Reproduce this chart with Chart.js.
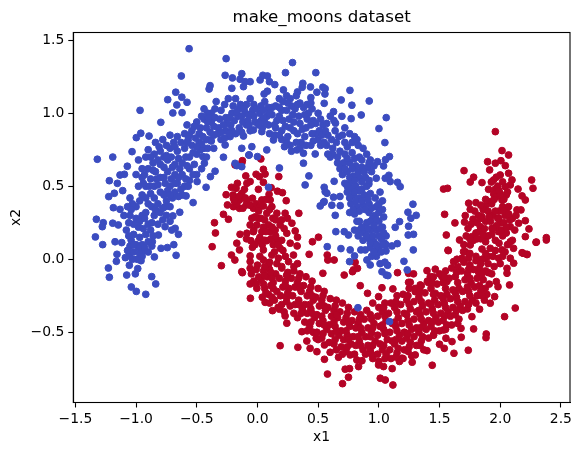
<!DOCTYPE html>
<html lang="en">
  <head>
    <meta charset="utf-8" />
    <title>make_moons dataset</title>
    <style>
      * {
        margin: 0;
        padding: 0;
      }
      body {
        background: white;
      }
      canvas {
        display: block;
      }
    </style>
  </head>
  <body>
    <canvas id="myChart" width="580" height="455"></canvas>

    <script src="https://cdnjs.cloudflare.com/ajax/libs/Chart.js/4.4.1/chart.umd.min.js"></script>

    <script>
      // data block: values as [x1, x2]
      const blueEdge = [
        [-0.563,1.442],[-0.258,1.374],[-0.627,1.255],[-0.266,1.26],[-0.206,1.242],[-0.967,1.02],[-0.739,1.093],[-0.673,1.144],
        [-0.623,1.11],[-0.58,1.075],[-0.664,1.057],[-0.697,1.002],[-0.621,1.004],[-0.796,0.938],[-1.319,0.685],[-1.192,0.7],
        [-1.033,0.737],[-0.998,0.833],[-0.961,0.863],[-0.893,0.844],[-0.39,1.189],[-0.398,1.166],[-0.211,1.171],
        [-1.327,0.274],[-1.27,0.25],[-1.278,0.223],[-1.335,0.153],[-1.275,0.1],[-1.22,0.538],[-1.154,0.52],[-1.132,0.577],
        [-1.096,0.582],[-1.072,0.637],[-1.225,0.429],[-1.179,0.452],[-1.11,0.47],[-1.187,0.353],[-1.132,0.342],[-1.192,0.247],
        [-1.146,0.235],[-1.173,0.12],[-1.118,0.114],[-1.157,0.034],[-1.162,-0.014],[-1.228,-0.06],[-1.22,-0.123],[-1.088,0.011],
        [-1.055,0.029],[-1.055,-0.041],[-0.986,-0.064],[-1.077,-0.108],[-1.006,-0.1],[-1.039,-0.19],[-0.998,-0.22],[-0.92,-0.24],
        [-0.838,-0.169],[-0.871,-0.119],[-0.959,-0.01],[-0.849,0.016],[-0.67,0.027],[-0.689,0.1],[-0.742,0.08],[-0.794,0.075],
        [-0.866,0.12],[-0.934,0.059],[-0.651,0.171],[-0.678,0.212],[-0.706,0.2],[-0.761,0.223],[-0.816,0.166],[-0.64,0.322],
        [-0.697,0.297],[-0.53,0.388],[-0.588,0.434],[-0.423,0.493],[-0.497,0.532],[-0.387,0.566],[-0.349,0.603],[-0.437,0.658],
        [0.289,1.347],[0.231,1.278],[0.481,1.278],[-0.129,1.271],[-0.143,1.233],[-0.101,1.216],[-0.06,1.216],[-0.115,1.182],
        [0.045,1.26],[0.082,1.255],[0.022,1.228],[0.099,1.216],[0.143,1.196],[0.374,1.205],[0.369,1.178],[0.437,1.18],
        [0.539,1.178],[0.558,1.168],[0.49,1.144],[0.556,1.132],[0.762,1.157],[0.44,1.107],[0.69,1.091],[0.778,1.055],
        [0.921,1.084],[0.855,0.988],[0.772,0.963],[0.696,0.979],[0.643,0.932],[0.55,1.068],[0.627,1.011],[0.214,1.16],
        [0.082,1.151],[0.055,1.132],[0.33,1.146],[1.061,0.97],[1.001,0.895],[1.05,0.799],[1.088,0.703],[1.055,0.682],
        [0.989,0.668],[1.039,0.639],[1.083,0.575],[1.154,0.527],[1.176,0.497],[1.053,0.555],[1.094,0.532],[0.979,0.555],
        [0.918,0.516],[1.281,0.377],[1.24,0.322],[1.308,0.301],[1.264,0.281],[1.245,0.226],[1.171,0.258],[1.135,0.219],
        [1.286,0.171],[1.242,0.166],[1.152,0.107],[1.284,0.064],[1.207,-0.014],[1.234,-0.073],[1.059,0.057],[1.108,0.091],
        [1.047,0.11],[1.072,-0.041],[1.061,-0.108],[1.075,-0.112],[1.026,-0.085],[0.929,-0.039],[0.902,-0.005],[0.97,0.059],
        [0.852,0.064],[0.888,0.064],[0.764,0.064],[0.688,0.073],[0.575,0.086],[0.8,0.023],[0.759,-0.016],[0.646,0.189],
        [0.715,0.189],[0.75,0.166],[0.641,0.301],[0.544,0.39],[0.613,0.37],[0.632,0.534],[0.55,0.493],[0.558,0.463],
        [0.627,0.425],[0.682,0.367],[0.181,0.625],[0.393,0.509],[0.424,0.571],[0.379,0.658],[0.517,0.365],[0.55,0.395],
        [0.572,0.452],[0.091,0.493],[-0.068,0.714],[0,0.703],[-0.17,0.641],[-0.129,0.634],[0.828,-0.332],[1.088,-0.427],
        [-0.129,0.76],[-0.046,0.771],[-0.071,0.714],[0.077,0.749],[0.223,0.771],[0.325,0.749],[0.379,0.726],[0.476,0.721],
        [-0.28,0.699],[-0.45,0.703],[-0.184,0.657],[-0.225,0.84],[-0.115,0.844],[-0.033,0.886],[0.036,0.874],[0.132,0.817],
        [-0.266,0.783],[-0.39,0.817]
      ];
      const blueCore = [
        [-1.05,0.42],[-1,0.36],[-0.95,0.44],[-0.9,0.38],[-0.85,0.42],[-0.8,0.46],[-0.75,0.4],[-0.7,0.42],[-1.05,0.3],[-1,0.28],
        [-0.95,0.3],[-0.9,0.24],[-0.85,0.3],[-0.8,0.32],[-0.75,0.3],[-0.72,0.26],[-1.08,0.2],[-1.02,0.17],[-0.98,0.22],[-0.92,0.17],
        [-0.88,0.2],[-0.82,0.24],[-1,0.1],[-0.95,0.1],[-0.9,0.12],[-1.05,0.09],[-1.02,0.05],[-0.97,0.04],[-0.9,0.05],[-1.07,0.06],
        [-0.92,0.5],[-0.88,0.55],[-0.84,0.6],[-0.8,0.56],[-0.76,0.52],[-0.72,0.5],[-0.68,0.46],[-0.62,0.44],[-0.66,0.52],[-0.6,0.5],
        [-0.56,0.54],[-0.85,0.5],[-0.95,0.56],[-0.9,0.62],[-0.95,0.62],[-1,0.58],[-0.98,0.68],[-0.92,0.7],[-0.86,0.66],[-0.8,0.65],
        [-0.74,0.6],[-0.68,0.58],[-0.62,0.58],[-0.56,0.62],[-0.5,0.58],[-0.52,0.65],[-0.46,0.62],[-0.42,0.7],[-0.44,0.76],[-0.9,0.75],
        [-0.85,0.72],[-0.8,0.74],[-0.74,0.68],[-0.68,0.65],[-0.62,0.66],[-0.56,0.7],[-0.5,0.72],[-0.84,0.8],[-0.78,0.82],[-0.72,0.76],
        [-0.66,0.74],[-0.6,0.76],[-0.54,0.78],[-0.48,0.8],[-0.42,0.82],[-0.36,0.76],[-0.72,0.85],[-0.66,0.84],[-0.6,0.86],[-0.54,0.88],
        [-0.48,0.86],[-0.42,0.9],[-0.36,0.85],[-0.3,0.82],[-0.58,0.92],[-0.5,0.94],[-0.44,0.96],[-0.38,0.94],[-0.32,0.9],[-0.26,0.88],
        [-0.44,1.03],[-0.38,1],[-0.34,1.08],[-0.3,1.02],[-0.26,0.97],[-0.22,0.92],[-0.2,1.05],[-0.24,1.1],[-0.18,1.1],[-0.14,1.06],
        [-0.16,0.98],[-0.12,0.94],[-0.18,0.86],[-0.1,1],[-0.06,1.1],[-0.04,1.02],[-0.02,0.94],[-0.06,0.88],[0.02,1],[0.06,1.08],
        [0.08,0.98],[0.04,0.9],[0.1,0.86],[0.12,1.04],[0.16,0.95],[0.18,1.1],[0.2,1.02],[0.2,0.88],[0.24,0.8],[0.24,1.12],
        [0.26,0.96],[0.28,1.05],[0.3,0.88],[0.32,1.12],[0.34,0.98],[0.36,0.8],[0.38,1.04],[0.4,0.9],[0.42,1],[0.44,0.78],
        [0.46,0.95],[0.48,0.86],[0.5,1],[0.52,0.78],[0.54,0.92],[0.58,0.85],[0.6,0.98],[0.62,0.76],[0.64,0.88],[0.28,0.74],
        [0.72,0.8],[0.76,0.86],[0.8,0.84],[0.83,0.78],[0.87,0.76],[0.68,0.74],[0.72,0.72],[0.78,0.73],[0.84,0.7],[0.9,0.72],
        [0.93,0.68],[0.66,0.66],[0.71,0.66],[0.76,0.66],[0.81,0.64],[0.86,0.63],[0.91,0.63],[0.96,0.64],[0.62,0.72],[0.74,0.6],
        [0.79,0.57],[0.84,0.56],[0.89,0.56],[0.7,0.58],[0.76,0.52],[0.81,0.5],[0.86,0.48],[0.9,0.5],[0.72,0.52],[0.74,0.46],
        [0.79,0.44],[0.84,0.42],[0.88,0.44],[0.93,0.45],[0.68,0.43],[0.77,0.38],[0.82,0.36],[0.87,0.37],[0.92,0.38],[0.97,0.42],
        [1.01,0.46],[0.76,0.32],[0.8,0.31],[0.92,0.32],[0.98,0.36],[1.03,0.4],[1.03,0.34],[0.97,0.3],[0.82,0.26],[0.9,0.25],
        [0.95,0.28],[1,0.26],[1.04,0.29],[0.84,0.2],[0.88,0.18],[0.93,0.2],[0.98,0.2],[1.03,0.22],[1.06,0.16],[0.87,0.13],
        [0.92,0.14],[0.96,0.12],[1.02,0.14],[1.06,0.1],[0.93,0.08],[1,0.08],[0.83,0.16],[0.8,0.2],[0.98,0.02],[0.94,0.02],
        [1.01,-0.03],[1.05,-0.02]
      ];
      const blueFill = [
        [-0.57,0.82],[-0.51,0.83],[-0.45,0.84],[-0.39,0.87],[-0.33,0.86],[-0.27,0.83],[-0.21,0.88],[-0.15,0.9],[-0.09,0.92],[-0.03,0.98],
        [0.03,0.95],[0.09,0.92],[0.15,0.9],[0.21,0.95],[0.27,0.9],[0.33,0.86],[0.39,0.84],[0.45,0.86],[0.51,0.88],[0.57,0.78],
        [-0.41,1],[-0.35,1.03],[-0.27,1.06],[-0.21,1],[-0.15,1.03],[-0.09,1.06],[-0.03,1.06],[0.03,1.05],[0.09,1.04],[0.15,1.05],
        [0.21,1.08],[0.27,1.1],[0.31,1.03],[0.35,1.07],[0.41,1.06],[0.45,1.03],[0.05,1.02],[0.12,0.99],[0.18,0.98],[0.24,1.02],
        [0.29,0.99],[0.35,0.93],[0.41,0.96],[0.48,0.93],[0.52,0.96],[0.57,0.93],[0.63,0.95],[0.25,0.84],[0.32,0.8],[0.4,0.78],
        [0.14,0.85],[0.2,0.82],[0.27,0.78],[-0.25,0.93],[-0.19,0.95],[-0.13,0.98],[-0.08,0.95],[-0.31,0.96],[-0.36,0.91],[-0.41,0.94],
        [-0.47,0.9],[-0.52,0.91],[-0.56,0.85],[-0.63,0.8],[-0.69,0.8],[-0.75,0.78],[-0.81,0.77],[-0.77,0.7],[-0.71,0.7],[-0.65,0.69],
        [-0.59,0.7],[-0.53,0.73],[-0.47,0.75],[-0.41,0.76],[-0.82,0.68],[-0.88,0.7],[-0.7,0.63],[-0.64,0.62],[-0.58,0.64],[-0.77,0.63],
        [-0.83,0.55],[-0.77,0.56],[-0.71,0.55],[-0.65,0.56],[-0.59,0.55],[-0.53,0.58],[-0.89,0.5],[-0.94,0.52],[-0.82,0.51],[-0.74,0.47],
        [-0.68,0.52],[-0.63,0.48],[-0.57,0.5],[-1.03,0.38],[-0.97,0.4],[-0.92,0.42],[-0.87,0.36],[-0.82,0.38],[-0.77,0.44],[-0.72,0.36],
        [-1.07,0.36],[-1.02,0.24],[-0.97,0.26],[-0.92,0.32],[-0.87,0.25],[-0.78,0.27],[-1.04,0.13],[-0.97,0.15],[-0.93,0.08],[-0.87,0.09],
        [-0.99,0],[-1.03,0],[-0.98,0.08],[-0.76,0.36],[-0.84,0.34],[-0.93,0.28],[0.74,0.77],[0.78,0.8],[0.82,0.82],[0.74,0.69],
        [0.8,0.69],[0.86,0.68],[0.92,0.66],[0.68,0.62],[0.72,0.62],[0.78,0.62],[0.83,0.6],[0.88,0.6],[0.94,0.6],[0.76,0.56],
        [0.8,0.54],[0.86,0.53],[0.92,0.54],[0.74,0.5],[0.78,0.48],[0.84,0.47],[0.8,0.46],[0.76,0.42],[0.81,0.4],[0.86,0.4],
        [0.91,0.41],[0.79,0.34],[0.84,0.33],[0.89,0.34],[0.94,0.35],[1,0.38],[0.84,0.26],[0.93,0.26],[0.98,0.27],[1,0.32],
        [0.86,0.22],[0.91,0.21],[0.96,0.23],[1.01,0.21],[0.9,0.16],[0.95,0.16],[1,0.16],[1.04,0.18],[0.93,0.11],[0.98,0.1],
        [1.03,0.1],[0.96,0.05],[1.02,0.05],[0.6,0.7],[0.65,0.8],[0.7,0.85],[0.66,0.7],[0.58,0.72],[0.72,0.9],[0.55,0.8],[0.5,0.82],
        [-0.46,0.98],[-0.4,0.97],[-0.35,0.97],[-0.28,0.92],[-0.23,0.97],[-0.17,1.01],[-0.11,1.03],[-0.07,0.99],[-0.01,1.03],[0.01,0.92],
        [0.06,0.94],[0.1,1],[0.14,0.92],[0.18,1.04],[0.23,0.91],[0.25,1.07],[0.3,0.94],[0.33,1.06],[0.37,0.89],[0.39,0.99],
        [0.44,0.92],[0.46,0.81],[0.44,1.07],[0.53,0.85],[0.56,0.88],[0.61,0.82],[0.67,0.84],[0.35,0.76],[0.18,0.85],[0.05,0.97],
        [-0.07,0.92],[-0.13,0.87],[-0.23,0.86],[-0.3,0.87],[-0.38,0.81],[-0.46,0.79],[-0.5,0.77],[-0.58,0.8],[-0.68,0.77],[-0.75,0.71],
        [-0.86,0.61],[-0.93,0.58],[-0.98,0.5],[-0.88,0.45],[-0.72,0.44],[-0.65,0.43],[-1.06,0.25],[-1.04,0.34],[-0.94,0.21],[-0.86,0.16],
        [-0.95,0.02],[-1.02,0.1],[-0.78,0.35],[-1.1,0.3],[-1.06,0.16]
      ];
      const redEdge = [
        [-0.124,0.675],[-0.129,0.658],[0.028,0.687],[-0.184,0.646],[0.049,0.616],[0.063,0.584],[0.176,0.566],[-0.096,0.571],
        [-0.011,0.582],[0.016,0.566],[-0.06,0.532],[-0.087,0.52],[-0.165,0.52],[0.049,0.527],[-0.214,0.493],[-0.176,0.486],
        [-0.107,0.479],[0.008,0.479],[0.113,0.49],[0.165,0.466],[0.206,0.456],[-0.258,0.442],[-0.198,0.418],[-0.148,0.406],
        [-0.087,0.401],[-0.041,0.418],[0.036,0.406],[0.096,0.445],[0.105,0.406],[0.237,0.401],[-0.247,0.372],[-0.198,0.36],
        [-0.148,0.349],[-0.093,0.372],[-0.033,0.349],[0.049,0.365],[0.119,0.36],[-0.28,0.308],[-0.239,0.274],[-0.354,0.25],
        [-0.346,0.18],[-0.373,0.086],[-0.297,-0.044],[0.341,0.315],[0.228,0.315],[0.16,0.315],[0.077,0.315],[0.127,0.281],
        [0.247,0.281],[0.284,0.247],[-0.046,0.281],[0.008,0.281],[-0.06,0.235],[-0.005,0.235],[0.091,0.235],[0.187,0.235],
        [-0.143,0.171],[-0.087,0.178],[-0.033,0.189],[0.036,0.189],[0.105,0.189],[0.146,0.2],[0.242,0.178],[0.311,0.194],
        [0.33,0.151],[0.503,0.151],[0.453,0.12],[-0.17,0.11],[-0.054,0.127],[0.008,0.127],[0.077,0.127],[0.16,0.132],
        [0.27,0.11],[0.327,0.091],[-0.041,0.082],[-0.148,0.064],[0.049,0.064],[0.187,0.075],[-0.214,0.029],[-0.186,-0.005],
        [-0.06,0.023],[-0.06,-0.016],[-0.06,-0.062],[-0.129,-0.085],[0.049,-0.005],[0.119,0.029],[0.091,-0.039],[0.173,0.007],
        [0.256,-0.016],[0.297,0.029],[0.426,0.034],[0.575,0.029],[0.58,-0.005],[0.632,-0.005],[0.539,-0.096],[0.715,-0.108],
        [0.805,-0.021],[0.791,-0.073],[0.824,-0.062],[0.847,-0.181],[1.533,0.481],[1.566,0.486],[1.542,0.308],[1.556,0.166],
        [1.57,0.062],[1.154,-0.092],[1.245,-0.096],[1.286,-0.1],[1.026,-0.195],[1.116,-0.203],[0.907,-0.233],[0.998,-0.256],
        [0.783,-0.085],[1.397,-0.078],[1.465,-0.068],[1.424,-0.119],[1.52,-0.119],[1.259,-0.158],[1.341,-0.176],[1.41,-0.16],
        [1.3,-0.222],[1.465,-0.233],[1.561,-0.153],[-0.124,-0.092],[-0.06,-0.169],[-0.005,-0.199],[-0.058,-0.267],[0.063,-0.295],
        [0.124,-0.352],[0.181,-0.342],[0.228,-0.388],[0.242,-0.438],[0.187,-0.592],[0.333,-0.603],[0.366,-0.496],[0.407,-0.56],
        [0.484,-0.541],[0.434,-0.61],[0.49,-0.633],[0.552,-0.587],[0.552,-0.685],[0.599,-0.637],[0.668,-0.671],[0.577,-0.786],
        [0.723,-0.753],[0.759,-0.749],[0.75,-0.808],[0.701,-0.852],[0.764,-0.655],[0.833,-0.735],[0.819,-0.69],[0.861,-0.695],
        [1.012,-0.815],[1.053,-0.827],[1.116,-0.861],[1.11,-0.749],[0.998,-0.724],[1.039,-0.735],[1.245,-0.158],[1.572,0.059],
        [2.18,0.045],[2.221,0.032],[2.111,-0.027],[2.056,-0.062],[2.056,-0.096],[1.968,-0.153],[1.982,-0.188],[2.077,-0.176],
        [1.877,-0.199],[1.954,-0.256],[1.918,-0.301],[2.124,-0.334],[2.036,-0.393],[1.83,-0.342],[1.767,-0.393],[1.781,-0.477],
        [1.885,-0.512],[1.883,-0.537],[1.679,-0.534],[1.603,-0.564],[1.553,-0.541],[1.737,-0.623],[1.619,-0.644],[1.5,-0.582],
        [1.539,-0.61],[1.397,-0.626],[1.44,-0.726],[1.275,-0.705],[1.3,-0.655],[1.19,-0.678],[1.677,-0.473],[1.533,-0.484],
        [1.451,-0.518],[1.904,-0.092],[1.822,-0.089],[1.616,-0.016],[1.685,0.007],[1.712,0.052],[2.295,0.116],[2.38,0.132],
        [1.96,0.874],[2.015,0.744],[2.069,0.714],[1.896,0.668],[1.96,0.658],[2.006,0.675],[2.042,0.641],[1.913,0.612],
        [1.702,0.607],[2.069,0.589],[2,0.577],[1.968,0.562],[1.946,0.543],[1.927,0.529],[1.781,0.562],[1.753,0.529],
        [1.85,0.525],[2.097,0.543],[2.259,0.543],[2.083,0.509],[2.042,0.497],[2.27,0.486],[2.147,0.481],[1.904,0.479],
        [1.96,0.481],[1.946,0.447],[2.05,0.44],[2.18,0.434],[2.207,0.406],[2.015,0.406],[1.918,0.395],[1.74,0.384],
        [1.8,0.388],[1.753,0.342],[1.877,0.365],[2.069,0.36],[2.138,0.338],[2.171,0.338],[1.712,0.299],[1.776,0.274],
        [1.706,0.255],[1.627,0.249],[1.85,0.292],[1.918,0.303],[1.987,0.281],[2.056,0.315],[2.207,0.264],[2.152,0.247],
        [2.237,0.208],[2.083,0.223],[1.735,0.212],[1.836,0.223],[1.932,0.212],[1.987,0.189],[2.207,0.155],[2.38,0.148],
        [2.298,0.118],[1.665,0.132],[1.767,0.155],[1.877,0.144],[2.083,0.12],[1.698,0.052],[1.753,0.098],[1.918,0.075],
        [2.015,0.064],[2.11,0.075],[2.188,0.041],[2.221,0.034],[1.644,0],[1.739,0.007],[1.877,0.007],[1.987,0.007],[2.083,0.007]
      ];
      const redCore = [
        [-0.05,-0.1],[-0.03,-0.15],[0.05,-0.08],[0.03,-0.14],[0.06,-0.2],[0.04,-0.26],[0.15,-0.1],[0.13,-0.16],[0.16,-0.22],[0.14,-0.28],
        [0.17,-0.33],[0.25,-0.09],[0.23,-0.15],[0.26,-0.2],[0.24,-0.26],[0.27,-0.32],[0.35,-0.1],[0.33,-0.16],[0.36,-0.22],[0.34,-0.28],
        [0.37,-0.34],[0.33,-0.4],[0.45,-0.15],[0.43,-0.22],[0.46,-0.28],[0.44,-0.34],[0.47,-0.4],[0.43,-0.46],[0.46,-0.5],[0.55,-0.22],
        [0.53,-0.28],[0.56,-0.35],[0.54,-0.42],[0.57,-0.48],[0.53,-0.54],[0.65,-0.28],[0.63,-0.35],[0.66,-0.4],[0.64,-0.46],[0.67,-0.52],
        [0.63,-0.58],[0.65,-0.62],[0.75,-0.33],[0.73,-0.4],[0.76,-0.46],[0.74,-0.52],[0.77,-0.58],[0.73,-0.63],[0.85,-0.38],[0.83,-0.44],
        [0.86,-0.5],[0.84,-0.56],[0.87,-0.62],[0.95,-0.3],[0.93,-0.38],[0.96,-0.44],[0.94,-0.5],[0.97,-0.56],[0.93,-0.62],[0.95,-0.68],
        [1.05,-0.3],[1.03,-0.36],[1.06,-0.42],[1.04,-0.48],[1.07,-0.55],[1.03,-0.62],[1.05,-0.68],[1.15,-0.25],[1.13,-0.33],[1.16,-0.4],
        [1.14,-0.46],[1.17,-0.52],[1.13,-0.58],[1.15,-0.64],[1.17,-0.7],[1.25,-0.2],[1.23,-0.28],[1.26,-0.34],[1.24,-0.42],[1.27,-0.48],
        [1.23,-0.54],[1.25,-0.6],[1.27,-0.66],[1.35,-0.18],[1.33,-0.26],[1.36,-0.32],[1.34,-0.38],[1.37,-0.44],[1.33,-0.5],[1.35,-0.56],
        [1.37,-0.62],[1.45,-0.12],[1.43,-0.2],[1.46,-0.28],[1.44,-0.34],[1.47,-0.4],[1.43,-0.46],[1.45,-0.52],[1.55,-0.08],[1.53,-0.16],
        [1.56,-0.24],[1.54,-0.3],[1.57,-0.36],[1.53,-0.42],[1.55,-0.48],[1.65,-0.05],[1.63,-0.12],[1.66,-0.2],[1.64,-0.26],[1.67,-0.32],
        [1.63,-0.38],[1.65,-0.44],[1.75,-0.04],[1.73,-0.1],[1.76,-0.16],[1.74,-0.22],[1.77,-0.28],[1.73,-0.34],[1.85,0],[1.83,-0.06],
        [1.86,-0.14],[1.84,-0.22],[1.87,-0.28],[1.95,-0.05],[1.93,-0.1],[2,-0.03],
        [1.84,0.14],[1.9,0.16],[1.96,0.13],[2.02,0.16],[2.06,0.1],[1.8,0.18],[1.88,0.26],[1.94,0.3],[2,0.25],[2.04,0.3],
        [1.82,0.3],[1.86,0.34],[1.93,0.38],[1.99,0.33],[2.02,0.36],[2.1,0.28],[2.12,0.2],[1.72,0.16],[1.9,0.02],[1.96,0.06],
        [2.02,0.02],[1.8,0.02],[1.75,0.04]
      ];
      const redFill = [
        [0.01,-0.12],[-0.01,-0.17],[0.1,-0.07],[0.08,-0.12],[0.11,-0.18],[0.09,-0.24],[0.1,-0.3],[0.2,-0.06],[0.18,-0.13],[0.21,-0.19],
        [0.19,-0.25],[0.2,-0.31],[0.22,-0.36],[0.3,-0.08],[0.28,-0.13],[0.31,-0.19],[0.29,-0.25],[0.31,-0.31],[0.3,-0.37],[0.4,-0.12],
        [0.38,-0.18],[0.41,-0.25],[0.39,-0.31],[0.41,-0.37],[0.39,-0.43],[0.41,-0.49],[0.5,-0.2],[0.48,-0.26],[0.51,-0.32],[0.49,-0.38],
        [0.51,-0.44],[0.49,-0.5],[0.5,-0.55],[0.6,-0.27],[0.58,-0.33],[0.61,-0.39],[0.59,-0.45],[0.61,-0.51],[0.59,-0.57],[0.7,-0.3],
        [0.68,-0.36],[0.71,-0.43],[0.69,-0.49],[0.71,-0.55],[0.69,-0.6],[0.7,-0.65],[0.8,-0.36],[0.78,-0.42],[0.81,-0.47],[0.79,-0.53],
        [0.81,-0.59],[0.8,-0.65],[0.9,-0.35],[0.88,-0.41],[0.91,-0.47],[0.89,-0.53],[0.91,-0.59],[0.89,-0.65],[1,-0.33],[0.99,-0.39],
        [1.01,-0.46],[0.99,-0.52],[1.01,-0.58],[0.99,-0.65],[1,-0.7],[1.1,-0.3],[1.08,-0.37],[1.11,-0.44],[1.09,-0.5],[1.11,-0.56],
        [1.09,-0.62],[1.1,-0.68],[1.2,-0.24],[1.18,-0.31],[1.21,-0.37],[1.19,-0.44],[1.21,-0.5],[1.19,-0.56],[1.21,-0.62],[1.2,-0.68],
        [1.3,-0.2],[1.29,-0.29],[1.31,-0.36],[1.29,-0.41],[1.31,-0.47],[1.29,-0.53],[1.31,-0.59],[1.4,-0.15],[1.38,-0.23],[1.41,-0.3],
        [1.39,-0.36],[1.41,-0.42],[1.39,-0.48],[1.41,-0.54],[1.5,-0.1],[1.48,-0.17],[1.51,-0.25],[1.49,-0.31],[1.51,-0.37],[1.49,-0.43],
        [1.5,-0.49],[1.6,-0.06],[1.58,-0.13],[1.61,-0.21],[1.59,-0.27],[1.61,-0.33],[1.59,-0.39],[1.6,-0.45],[1.7,-0.02],[1.68,-0.08],
        [1.71,-0.14],[1.69,-0.22],[1.71,-0.29],[1.69,-0.35],[1.8,-0.01],[1.78,-0.07],[1.81,-0.13],[1.79,-0.19],[1.81,-0.25],[1.8,-0.3],
        [1.9,-0.03],[1.88,-0.08],[1.91,-0.17],[1.89,-0.24],
        [1.78,0.13],[1.83,0.19],[1.88,0.12],[1.93,0.17],[1.99,0.11],[2.05,0.18],[2.1,0.13],[1.76,0.24],[1.81,0.25],[1.87,0.21],
        [1.92,0.26],[1.97,0.23],[2.03,0.25],[2.08,0.27],[2.13,0.3],[1.79,0.33],[1.84,0.37],[1.9,0.33],[1.96,0.33],[2.03,0.33],
        [2.07,0.31],[1.88,0.41],[1.97,0.43],[2,0.45],[2.03,0.41],[1.98,0.5],[2.02,0.53],[2.06,0.46],[1.88,0.04],[1.94,0.02],
        [2.04,0.05],[1.85,0.07],[1.7,0.1],[1.75,0.14],
        [-0.13,0.45],[-0.2,0.44],[-0.17,0.38],[-0.12,0.35],[-0.06,0.37],[-0.01,0.38],[0.02,0.36],[0.07,0.41],[0.1,0.34],[0.03,0.28],
        [0.05,0.22],[0.12,0.22],[0.15,0.27],[0.2,0.27],[0.22,0.21],[0.02,0.15],[-0.02,0.1],[0.04,0.1],[0.11,0.14],[0.13,0.1],
        [0.2,0.13],[0.21,0.06],[0.14,0.05],[0.23,0.02],[0.16,-0.03],[0.1,-0.02],[0.02,0.02],[0,-0.04],[-0.03,0.2],[-0.09,0.14],
        [-0.02,0.29],[-0.01,-0.07],[0.06,-0.05],[0.2,-0.05],[0.3,-0.05],[0.33,-0.03],
        [0.06,-0.11],[0.05,-0.17],[0.07,-0.23],[0.12,-0.13],[0.13,-0.2],[0.12,-0.26],[0.24,-0.11],[0.23,-0.18],[0.25,-0.23],[0.24,-0.29],
        [0.34,-0.13],[0.35,-0.2],[0.34,-0.31],[0.36,-0.37],[0.44,-0.19],[0.45,-0.25],[0.43,-0.31],[0.45,-0.37],[0.44,-0.43],[0.54,-0.25],
        [0.55,-0.32],[0.53,-0.39],[0.55,-0.45],[0.54,-0.51],[0.64,-0.32],[0.65,-0.38],[0.63,-0.43],[0.65,-0.49],[0.64,-0.55],[0.74,-0.37],
        [0.75,-0.43],[0.73,-0.49],[0.75,-0.55],[0.74,-0.6],[0.84,-0.41],[0.85,-0.47],[0.83,-0.53],[0.85,-0.59],[0.94,-0.41],[0.95,-0.47],
        [0.93,-0.53],[0.95,-0.59],[0.94,-0.65],[1.04,-0.33],[1.05,-0.39],[1.03,-0.45],[1.05,-0.51],[1.04,-0.59],[1.06,-0.65],[1.14,-0.29],
        [1.15,-0.36],[1.13,-0.43],[1.15,-0.49],[1.14,-0.55],[1.16,-0.61],[1.14,-0.67],[1.24,-0.25],[1.25,-0.31],[1.23,-0.38],[1.25,-0.45],
        [1.24,-0.51],[1.26,-0.57],[1.24,-0.63],[1.34,-0.22],[1.35,-0.29],[1.33,-0.35],[1.35,-0.41],[1.34,-0.47],[1.36,-0.53],[1.34,-0.59],
        [1.44,-0.16],[1.45,-0.24],[1.43,-0.31],[1.45,-0.37],[1.44,-0.43],[1.46,-0.49],[1.54,-0.12],[1.55,-0.2],[1.53,-0.27],[1.55,-0.33],
        [1.54,-0.39],[1.56,-0.45],[1.64,-0.09],[1.65,-0.16],[1.63,-0.23],[1.65,-0.29],[1.64,-0.35],[1.66,-0.41],[1.74,-0.07],[1.75,-0.13],
        [1.73,-0.19],[1.75,-0.25],[1.74,-0.31],[1.84,-0.03],[1.85,-0.1],[1.83,-0.18],[1.85,-0.25],
        [0.11,-0.09],[-0.15,0.43],[-0.19,0.4],[-0.1,0.42],[0.01,0.33],[0.06,0.27],[0.07,0.19],[0.15,0.16],[0.17,0.1],[0.06,0.13],
        [1.81,0.14],[1.86,0.17],[1.94,0.21],[2.01,0.2],[1.84,0.28],[1.91,0.29],[1.98,0.28],[2.05,0.22],[1.95,0.41],[1.99,0.47]
      ];
      const xTicks = [-1.5, -1.0, -0.5, 0.0, 0.5, 1.0, 1.5, 2.0, 2.5];
      const yTicks = [-0.5, 0.0, 0.5, 1.0, 1.5];

      const toPoint = ([x, y]) => ({ x, y });
      const tickText = (v) => v.toFixed(1).replace("-", "\u2212");
      const useTicks = (list) => (scale) => {
        scale.ticks = list.map((value) => ({ value }));
      };

      // draws the top and right spines too
      const frame = {
        id: "frame",
        afterDatasetsDraw(chart) {
          const { ctx, chartArea: { left, top, width, height } } = chart;
          ctx.save();
          ctx.strokeStyle = "#000";
          ctx.lineWidth = 1.1;
          ctx.strokeRect(left, top, width, height);
          ctx.restore();
        },
      };

      const axisOptions = (text, ticks, titlePadding) => ({
        type: "linear",
        afterBuildTicks: useTicks(ticks),
        title: {
          display: true,
          text: text,
          color: "#000",
          font: { family: "DejaVu Sans", size: 13.9, lineHeight: 1.2 },
          padding: titlePadding,
        },
        ticks: {
          color: "#000",
          font: { family: "DejaVu Sans", size: 13.9 },
          padding: 4,
          autoSkip: false,
          maxRotation: 0,
          callback: tickText,
        },
        grid: {
          drawOnChartArea: false,
          drawTicks: true,
          tickLength: 5,
          tickColor: "#000",
          tickWidth: 1.1,
        },
        border: { color: "#000", width: 1.1 },
      });

      const config = {
        type: "scatter",
        data: {
          datasets: [
            {
              label: "0",
              data: blueEdge.concat(blueCore, blueFill).map(toPoint),
              backgroundColor: "#3b4cc0",
              borderColor: "#3b4cc0",
              pointRadius: 3.4,
              pointBorderWidth: 1,
            },
            {
              label: "1",
              data: redEdge.concat(redCore, redFill).map(toPoint),
              backgroundColor: "#b40426",
              borderColor: "#b40426",
              pointRadius: 3.4,
              pointBorderWidth: 1,
            },
          ],
        },
        options: {
          responsive: false,
          animation: false,
          layout: { padding: { right: 10 } },
          plugins: {
            legend: { display: false },
            tooltip: { enabled: false },
            title: {
              display: true,
              text: "make_moons dataset",
              color: "#000",
              fullSize: false,
              font: { family: "DejaVu Sans", size: 16.67, weight: "normal", lineHeight: 1.2 },
              padding: { top: 8, bottom: 4.5 },
            },
          },
          scales: {
            x: {
              ...axisOptions("x1", xTicks, { top: 0, bottom: 9 }),
              min: -1.517,
              max: 2.575,
              afterFit(scale) {
                scale.height = 52.5;
              },
            },
            y: {
              ...axisOptions("x2", yTicks, { top: 7.7, bottom: 0 }),
              min: -0.981,
              max: 1.553,
              afterFit(scale) {
                scale.width = 73.3;
              },
            },
          },
        },
        plugins: [frame],
      };

      const myChart = new Chart(document.getElementById("myChart"), config);
    </script>
  </body>
</html>
